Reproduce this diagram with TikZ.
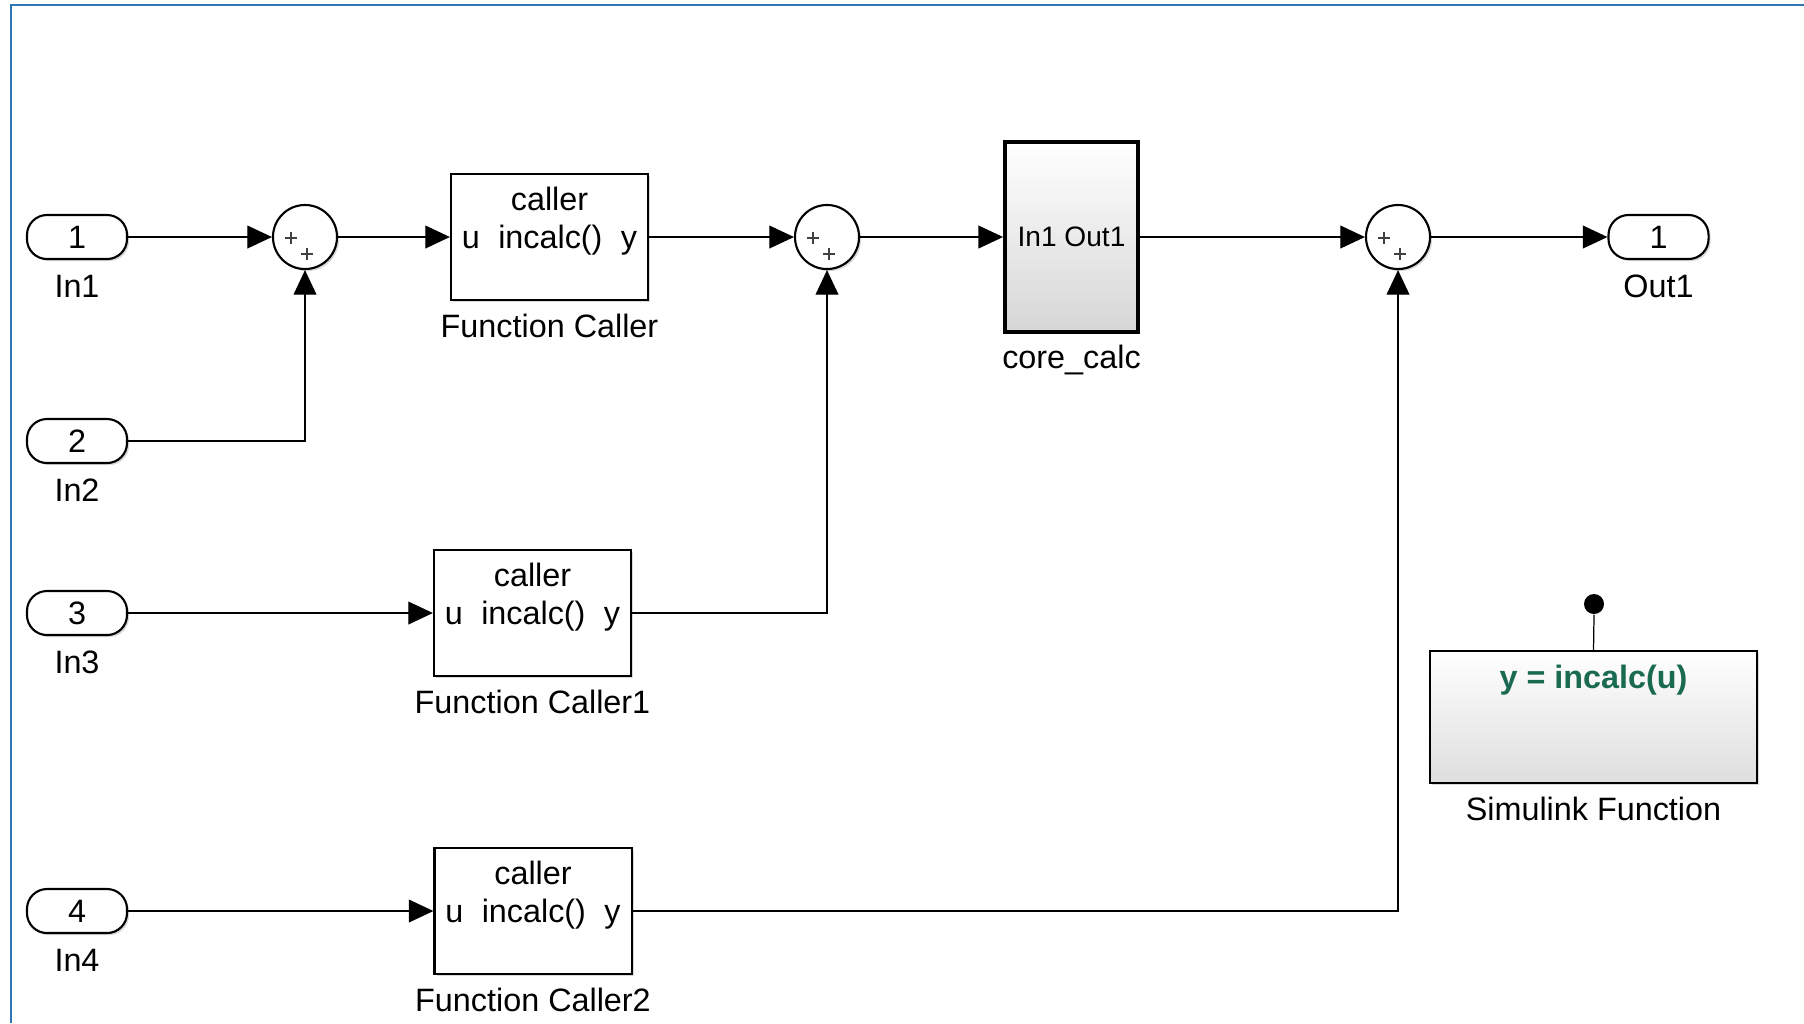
\documentclass[tikz,border=0pt]{standalone}
\usepackage{fontspec}
\setmainfont{Liberation Sans}
\usetikzlibrary{arrows.meta,shadows}
\definecolor{frameblue}{RGB}{46,117,182}
\definecolor{fngreen}{RGB}{26,106,82}

\begin{document}
\begin{tikzpicture}[x=0.01cm,y=-0.01cm,line width=0.35pt,
  font=\fontsize{9.2}{11}\selectfont,
  blockshadow/.style={drop shadow={shadow xshift=0.6pt,shadow yshift=-0.6pt,opacity=0.3}},
  port/.style={draw,line width=0.6pt,rounded corners=0.2cm,minimum width=1cm,
    minimum height=0.44cm,inner sep=0pt,fill=white,blockshadow},
  sum/.style={draw,circle,minimum size=0.64cm,inner sep=0pt,line width=0.6pt,
    fill=white,blockshadow,
    path picture={\draw[line width=0.35pt,black!75]
      ([shift={(-20,1)}]path picture bounding box.center) -- +(12,0) +(6,-6) -- +(6,6)
      ([shift={(-4,17)}]path picture bounding box.center) -- +(12,0) +(6,-6) -- +(6,6);}},
  caller/.style={draw,line width=0.6pt,minimum width=1.97cm,minimum height=1.26cm,
    fill=white,blockshadow},
  subsys/.style={draw,line width=1.1pt,top color=white,bottom color=black!16,blockshadow},
  caption/.style={anchor=base},
  wire/.style={-{Triangle[length=7pt,width=6.5pt]}}]
\useasboundingbox (0,0) rectangle (1804,1023);
\draw[frameblue,line width=0.6pt] (11,1023) -- (11,5) -- (1804,5);

% inports
\node[port] (in1) at (77,237) {1};
\node[caption] (in1-name) at (77,297) {In1};
\node[port] (in2) at (77,441) {2};
\node[caption] (in2-name) at (77,501) {In2};
\node[port] (in3) at (77,613) {3};
\node[caption] (in3-name) at (77,673) {In3};
\node[port] (in4) at (77,911) {4};
\node[caption] (in4-name) at (77,971) {In4};

% sums
\node[sum] (s1) at (305,237) {};
\node[sum] (s2) at (827,237) {};
\node[sum] (s3) at (1398,237) {};

% function callers
\node[caller] (fc) at (549.5,237) {};
\node[caption] (fc-top) at (549.5,210) {caller};
\node[caption] (fc-mid) at (549.5,248) {\makebox[1.75cm]{u\hfill incalc()\hfill y}};
\node[caption] (fc-name) at (549.5,337) {Function Caller};
\node[caller] (fc1) at (532.5,613) {};
\node[caption] (fc1-top) at (532.5,586) {caller};
\node[caption] (fc1-mid) at (532.5,624) {\makebox[1.75cm]{u\hfill incalc()\hfill y}};
\node[caption] (fc1-name) at (532.5,713) {Function Caller1};
\node[caller] (fc2) at (533,911) {};
\node[caption] (fc2-top) at (533,884) {caller};
\node[caption] (fc2-mid) at (533,922) {\makebox[1.75cm]{u\hfill incalc()\hfill y}};
\node[caption] (fc2-name) at (533,1011) {Function Caller2};

% subsystem
\node[subsys,minimum width=1.33cm,minimum height=1.9cm] (core) at (1071.5,237) {};
\node[caption,font=\fontsize{8}{10}\selectfont] (core-ports) at (1071.5,246) {In1 Out1};
\node[caption] (core-name) at (1071.5,368) {core\_calc};

% outport
\node[port] (out1) at (1658.5,237) {1};
\node[caption] (out1-name) at (1658.5,297) {Out1};

% simulink function
\node[subsys,line width=0.6pt,bottom color=black!13,minimum width=3.27cm,
  minimum height=1.32cm] (simfn) at (1593.5,717) {};
\node[caption,font=\fontsize{9.2}{11}\selectfont\bfseries,text=fngreen] (simfn-txt)
  at (1593.5,688) {y = incalc(u)};
\node[caption] (simfn-name) at (1593.5,820) {Simulink Function};
\node[circle,fill,inner sep=0pt,minimum size=0.2cm] (trig) at (1594,604) {};
\draw (trig.south) -- (simfn.north);

% signals
\draw[wire] (in1.east) -- (s1.west);
\draw[wire] (in2.east) -| (s1.south);
\draw[wire] (s1.east) -- (fc.west);
\draw[wire] (fc.east) -- (s2.west);
\draw[wire] (in3.east) -- (fc1.west);
\draw[wire] (fc1.east) -| (s2.south);
\draw[wire] (s2.east) -- (core.west);
\draw[wire] (core.east) -- (s3.west);
\draw[wire] (in4.east) -- (fc2.west);
\draw[wire] (fc2.east) -| (s3.south);
\draw[wire] (s3.east) -- (out1.west);
\end{tikzpicture}
\end{document}
